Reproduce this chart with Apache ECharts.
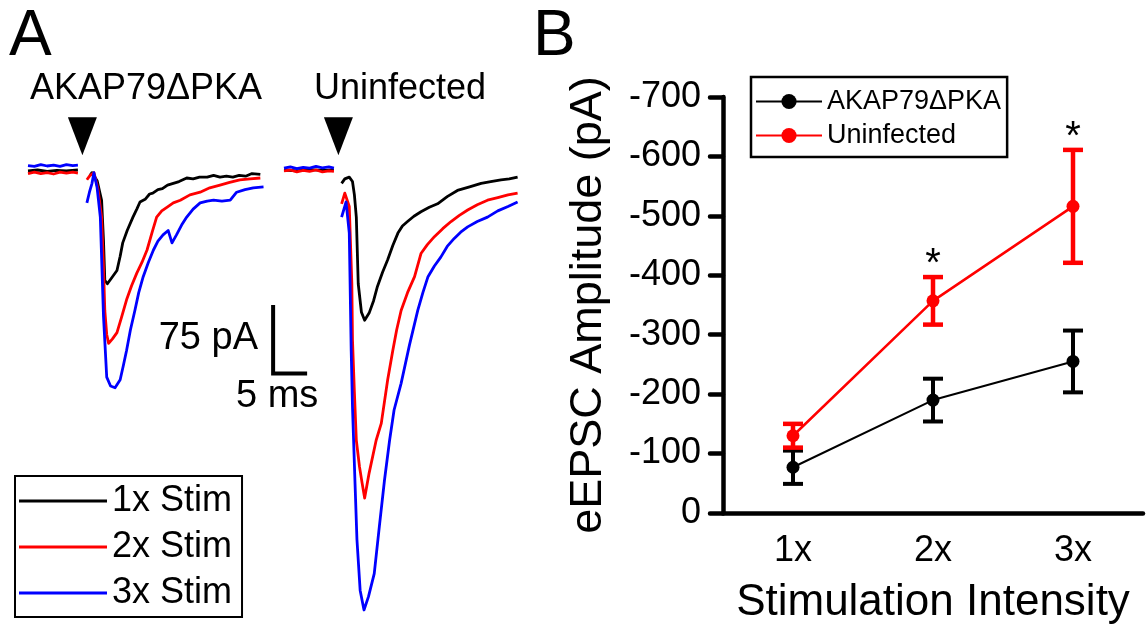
<!DOCTYPE html>
<html>
<head>
<meta charset="utf-8">
<script src="https://cdn.jsdelivr.net/npm/echarts@6/dist/echarts.min.js"></script>
<style>
  html, body { margin: 0; background: #fff; }
  #main { width: 1148px; height: 630px; }
</style>
</head>
<body>
<div id="main"></div>
<script>
var FONT = "'Liberation Sans', Arial, Helvetica, sans-serif";

// ---- panel B data ----
var stimLevels = ['1x', '2x', '3x'];
var akapMean = [-77, -190, -255];
var akapSem = [28, 36, 52];
var uninMean = [-130, -357, -516];
var uninSem = [20, 40, 95];
var sigMark = ['', '*', '*'];

// ---- panel A data: [time ms, current pA] ----
// AKAP79ΔPKA sweeps
var akapBase1x = [[0, -1], [1.5, 0], [3, -1.5], [4.5, -0.5], [6, -1], [7.8, 0]];
var akapBase2x = [[0, -4], [1, -2.5], [2, -4], [3, -3], [4, -4.5], [5, -2.5], [6, -3.5], [7, -2.5], [7.8, -3.5]];
var akapBase3x = [[0, 5], [1, 4], [2, 6], [3, 4.5], [4, 5.5], [5, 4], [6, 6], [7, 5], [7.8, 5.5]];
var akapResp1x = [[9.7, -6], [10.0, -3], [10.3, -2], [10.8, -12], [11.5, -34], [11.8, -80], [12.0, -124], [12.4, -128],
  [13.0, -122], [13.9, -113], [14.4, -97], [14.8, -82], [15.5, -68], [16.4, -53], [17.0, -44], [17.5, -36], [18.3, -33],
  [19.0, -27], [19.5, -26], [20.3, -22], [21.0, -21], [21.8, -17], [22.7, -15], [23.6, -13], [24.8, -9], [25.8, -10],
  [26.8, -8], [28.0, -8], [29.0, -6], [30.0, -8], [31.0, -7], [32.0, -8], [33.0, -6], [34.0, -7], [35.0, -4], [36.3, -5]];
var akapResp2x = [[9.2, -11], [9.7, -6], [10.3, -3], [10.9, -20], [11.5, -53], [11.8, -110], [12.0, -158], [12.3, -185],
  [12.6, -195], [13.2, -190], [13.9, -183], [14.6, -166], [15.4, -146], [16.2, -130], [17.0, -116], [17.8, -104],
  [18.6, -90], [19.4, -70], [20.1, -53], [20.9, -46], [21.7, -42], [22.7, -37], [23.8, -34], [25.3, -28], [26.9, -25],
  [28.4, -20], [30.0, -17], [31.5, -14], [33.1, -11], [34.7, -10], [36.3, -9]];
var akapResp3x = [[9.2, -37], [9.6, -25], [10.0, -15], [10.3, -3], [10.8, -20], [11.3, -53], [11.8, -165], [12.3, -233],
  [12.9, -243], [13.6, -245], [14.4, -236], [14.9, -220], [15.4, -203], [16.0, -180], [16.7, -158], [17.3, -138],
  [18.0, -120], [18.8, -104], [19.6, -90], [20.3, -80], [21.1, -73], [21.9, -68], [22.5, -82], [23.2, -73], [24.0, -62],
  [24.8, -53], [25.8, -44], [26.9, -37], [28.0, -35], [29.0, -34], [30.3, -35], [31.6, -34], [32.6, -25], [33.9, -22],
  [35.2, -20], [36.8, -19]];
// Uninfected sweeps
var uninBase1x = [[0, 0], [2, -1], [4, 0.5], [6, -0.5], [7.8, 0]];
var uninBase2x = [[0, -1], [1, 0], [2, -2], [3, -0.5], [4, -1.5], [5, 0], [6, -2], [7, -1], [7.8, -1.5]];
var uninBase3x = [[0, 2], [1, 3.5], [2, 1.5], [3, 3], [4, 2], [5, 4], [6, 2.5], [7, 3.5], [7.8, 2]];
var uninResp1x = [[9.0, -15], [9.5, -10], [10.2, -8], [10.7, -13], [11.0, -28], [11.3, -53], [11.6, -128], [12.1, -160],
  [12.6, -169], [13.3, -161], [14.0, -147], [14.6, -131], [15.4, -115], [16.2, -101], [17.0, -85], [17.8, -71],
  [18.5, -63], [19.3, -58], [20.3, -52], [21.4, -47], [22.7, -42], [24.0, -38], [25.5, -30], [27.1, -23], [29.0, -19],
  [30.8, -15], [32.3, -13], [33.9, -11], [35.2, -10], [36.5, -8]];
var uninResp2x = [[9.0, -38], [9.5, -26], [10.2, -41], [10.6, -128], [10.7, -191], [11.0, -250], [11.3, -304], [11.8, -334],
  [12.2, -352], [12.6, -369], [13.3, -341], [14.4, -304], [15.2, -285], [16.2, -236], [17.0, -203], [17.6, -180],
  [18.3, -158], [19.3, -138], [20.4, -120], [21.4, -94], [22.4, -84], [23.5, -75], [24.8, -66], [26.1, -58], [27.4, -51],
  [28.7, -45], [30.2, -39], [31.8, -34], [33.4, -31], [35.0, -28], [36.5, -26]];
var uninResp3x = [[9.0, -53], [9.7, -36], [10.2, -71], [10.5, -203], [10.7, -266], [11.1, -353], [11.4, -416], [11.9, -473],
  [12.5, -495], [13.2, -480], [14.1, -454], [14.9, -401], [15.7, -349], [16.5, -304], [17.2, -270], [18.3, -240],
  [19.6, -197], [20.9, -158], [21.7, -138], [22.5, -120], [23.5, -108], [24.5, -98], [25.5, -86], [26.6, -77],
  [27.6, -70], [28.7, -64], [30.2, -58], [31.8, -53], [33.4, -46], [35.0, -41], [36.5, -36]];

var stimTime = 8.5;      // ms, stimulus arrow
var arrowLevel = 38;     // pA
var scaleBarPA = 75;
var scaleBarMS = 5;
var scaleBarCorner = [38.3, -229];
var sweepShift = 40;     // ms, right-hand sweep set drawn after the left one

var BLACK = '#000000', RED = '#ff0000', BLUE = '#0000ff';

function sweep(name, color, base, resp, shift) {
  var pts = base.map(function (p) { return [p[0] + shift, p[1]]; });
  pts.push([base[base.length - 1][0] + shift + 0.4, '-']);
  resp.forEach(function (p) { pts.push([p[0] + shift, p[1]]); });
  return {
    type: 'line', name: name, xAxisIndex: 0, yAxisIndex: 0,
    data: pts, symbol: 'none', connectNulls: false,
    lineStyle: { color: color, width: 2.8, join: 'round' }, itemStyle: { color: color }
  };
}

function errBars(mean, sem, color, lw) {
  return {
    type: 'custom', xAxisIndex: 1, yAxisIndex: 1,
    data: mean.map(function (m, i) { return [i, m, sem[i]]; }),
    encode: { x: 0, y: 1 },
    renderItem: function (params, api) {
      var i = api.value(0), m = api.value(1), s = api.value(2);
      var a = api.coord([i, m - s]);
      var b = api.coord([i, m + s]);
      var w = 10;
      var st = { stroke: color, lineWidth: lw };
      return {
        type: 'group', children: [
          { type: 'line', shape: { x1: a[0], y1: a[1], x2: b[0], y2: b[1] }, style: st },
          { type: 'line', shape: { x1: a[0] - w, y1: a[1], x2: a[0] + w, y2: a[1] }, style: st },
          { type: 'line', shape: { x1: b[0] - w, y1: b[1], x2: b[0] + w, y2: b[1] }, style: st }
        ]
      };
    }
  };
}

var chart = echarts.init(document.getElementById('main'));

var option = {
  animation: false,
  backgroundColor: '#ffffff',
  textStyle: { fontFamily: FONT, color: '#000' },
  grid: [
    { left: 28, top: 122, width: 512, height: 496 },
    { left: 723, top: 97, right: 5, bottom: 117 }
  ],
  xAxis: [
    { type: 'value', gridIndex: 0, min: 0, max: 80, show: false },
    {
      type: 'category', gridIndex: 1, data: stimLevels, boundaryGap: true,
      axisLine: { lineStyle: { color: '#000', width: 4.5, cap: 'round' } },
      axisTick: { alignWithLabel: true, length: 13, lineStyle: { color: '#000', width: 4.5, cap: 'round' } },
      axisLabel: { fontSize: 36, color: '#000', margin: 20, fontFamily: FONT },
      name: 'Stimulation Intensity', nameLocation: 'middle', nameGap: 68,
      nameTextStyle: { fontSize: 44, color: '#000', fontFamily: FONT }
    }
  ],
  yAxis: [
    { type: 'value', gridIndex: 0, min: -504, max: 54, show: false },
    {
      type: 'value', gridIndex: 1, inverse: true, min: -700, max: 0, interval: 100,
      axisLine: { show: true, lineStyle: { color: '#000', width: 4.5, cap: 'round' } },
      axisTick: { show: true, length: 13, lineStyle: { color: '#000', width: 4.5, cap: 'round' } },
      splitLine: { show: false },
      axisLabel: { fontSize: 36, color: '#000', margin: 22, fontFamily: FONT },
      name: 'eEPSC Amplitude (pA)', nameLocation: 'middle', nameGap: 112, nameRotate: 90,
      nameTextStyle: { fontSize: 45, color: '#000', fontFamily: FONT }
    }
  ],
  legend: [
    {
      data: ['1x Stim', '2x Stim', '3x Stim'], orient: 'vertical', left: 15, top: 476,
      padding: [7, 10, 6, 4], itemWidth: 88, itemHeight: 3, itemGap: 10, icon: 'rect',
      borderColor: '#000', borderWidth: 2, selectedMode: false,
      textStyle: { fontSize: 36, lineHeight: 36, color: '#000', fontFamily: FONT }
    },
    {
      data: ['AKAP79ΔPKA', 'Uninfected'], orient: 'vertical', left: 751, top: 77,
      padding: [11, 6, 8, 4], itemWidth: 66, itemHeight: 19, itemGap: 7,
      borderColor: '#000', borderWidth: 2.5, selectedMode: false,
      textStyle: { fontSize: 27, lineHeight: 27, color: '#000', fontFamily: FONT }
    }
  ],
  graphic: [
    { type: 'text', style: { text: 'A', x: 9, y: 37, fontSize: 64, fontFamily: FONT, fill: '#000', textAlign: 'left', textVerticalAlign: 'middle' } },
    { type: 'text', style: { text: 'B', x: 533, y: 37, fontSize: 64, fontFamily: FONT, fill: '#000', textAlign: 'left', textVerticalAlign: 'middle' } },
    { type: 'text', style: { text: 'AKAP79ΔPKA', x: 146, y: 89, fontSize: 36, fontFamily: FONT, fill: '#000', textAlign: 'center', textVerticalAlign: 'middle' } },
    { type: 'text', style: { text: 'Uninfected', x: 400, y: 89, fontSize: 36, fontFamily: FONT, fill: '#000', textAlign: 'center', textVerticalAlign: 'middle' } },
    { type: 'text', style: { text: '75 pA', x: 258, y: 339, fontSize: 38, fontFamily: FONT, fill: '#000', textAlign: 'right', textVerticalAlign: 'middle' } },
    { type: 'text', style: { text: '5 ms', x: 236, y: 397, fontSize: 38, fontFamily: FONT, fill: '#000', textAlign: 'left', textVerticalAlign: 'middle' } }
  ],
  series: [
    sweep('1x Stim', BLACK, akapBase1x, akapResp1x, 0),
    sweep('2x Stim', RED, akapBase2x, akapResp2x, 0),
    sweep('3x Stim', BLUE, akapBase3x, akapResp3x, 0),
    sweep('1x Stim', BLACK, uninBase1x, uninResp1x, sweepShift),
    sweep('2x Stim', RED, uninBase2x, uninResp2x, sweepShift),
    sweep('3x Stim', BLUE, uninBase3x, uninResp3x, sweepShift),
    {
      type: 'line', xAxisIndex: 0, yAxisIndex: 0, symbol: 'none',
      data: [
        [scaleBarCorner[0], scaleBarCorner[1] + scaleBarPA],
        scaleBarCorner,
        [scaleBarCorner[0] + scaleBarMS, scaleBarCorner[1]]
      ],
      lineStyle: { color: BLACK, width: 4, cap: 'square', join: 'miter' }
    },
    {
      type: 'scatter', xAxisIndex: 0, yAxisIndex: 0,
      data: [[stimTime, arrowLevel], [stimTime + sweepShift, arrowLevel]],
      symbol: 'triangle', symbolRotate: 180, symbolSize: [29, 38],
      itemStyle: { color: BLACK, opacity: 1 }
    },
    errBars(akapMean, akapSem, BLACK, 4),
    {
      type: 'line', name: 'AKAP79ΔPKA', xAxisIndex: 1, yAxisIndex: 1,
      data: akapMean, symbol: 'circle', symbolSize: 13,
      lineStyle: { color: BLACK, width: 2 }, itemStyle: { color: BLACK }
    },
    errBars(uninMean, uninSem, RED, 4.5),
    {
      type: 'line', name: 'Uninfected', xAxisIndex: 1, yAxisIndex: 1,
      data: uninMean, symbol: 'circle', symbolSize: 13,
      lineStyle: { color: RED, width: 2.5 }, itemStyle: { color: RED }
    },
    {
      type: 'custom', xAxisIndex: 1, yAxisIndex: 1,
      data: uninMean.map(function (m, i) { return [i, m - uninSem[i]]; }),
      encode: { x: 0, y: 1 },
      renderItem: function (params, api) {
        var txt = sigMark[params.dataIndex];
        if (!txt) return null;
        var p = api.coord([api.value(0), api.value(1)]);
        return {
          type: 'text',
          style: { text: txt, x: p[0], y: p[1] - 12, fontSize: 40, fontFamily: FONT, fill: '#000', textAlign: 'center', textVerticalAlign: 'middle' }
        };
      }
    }
  ]
};

chart.setOption(option);
</script>
</body>
</html>
